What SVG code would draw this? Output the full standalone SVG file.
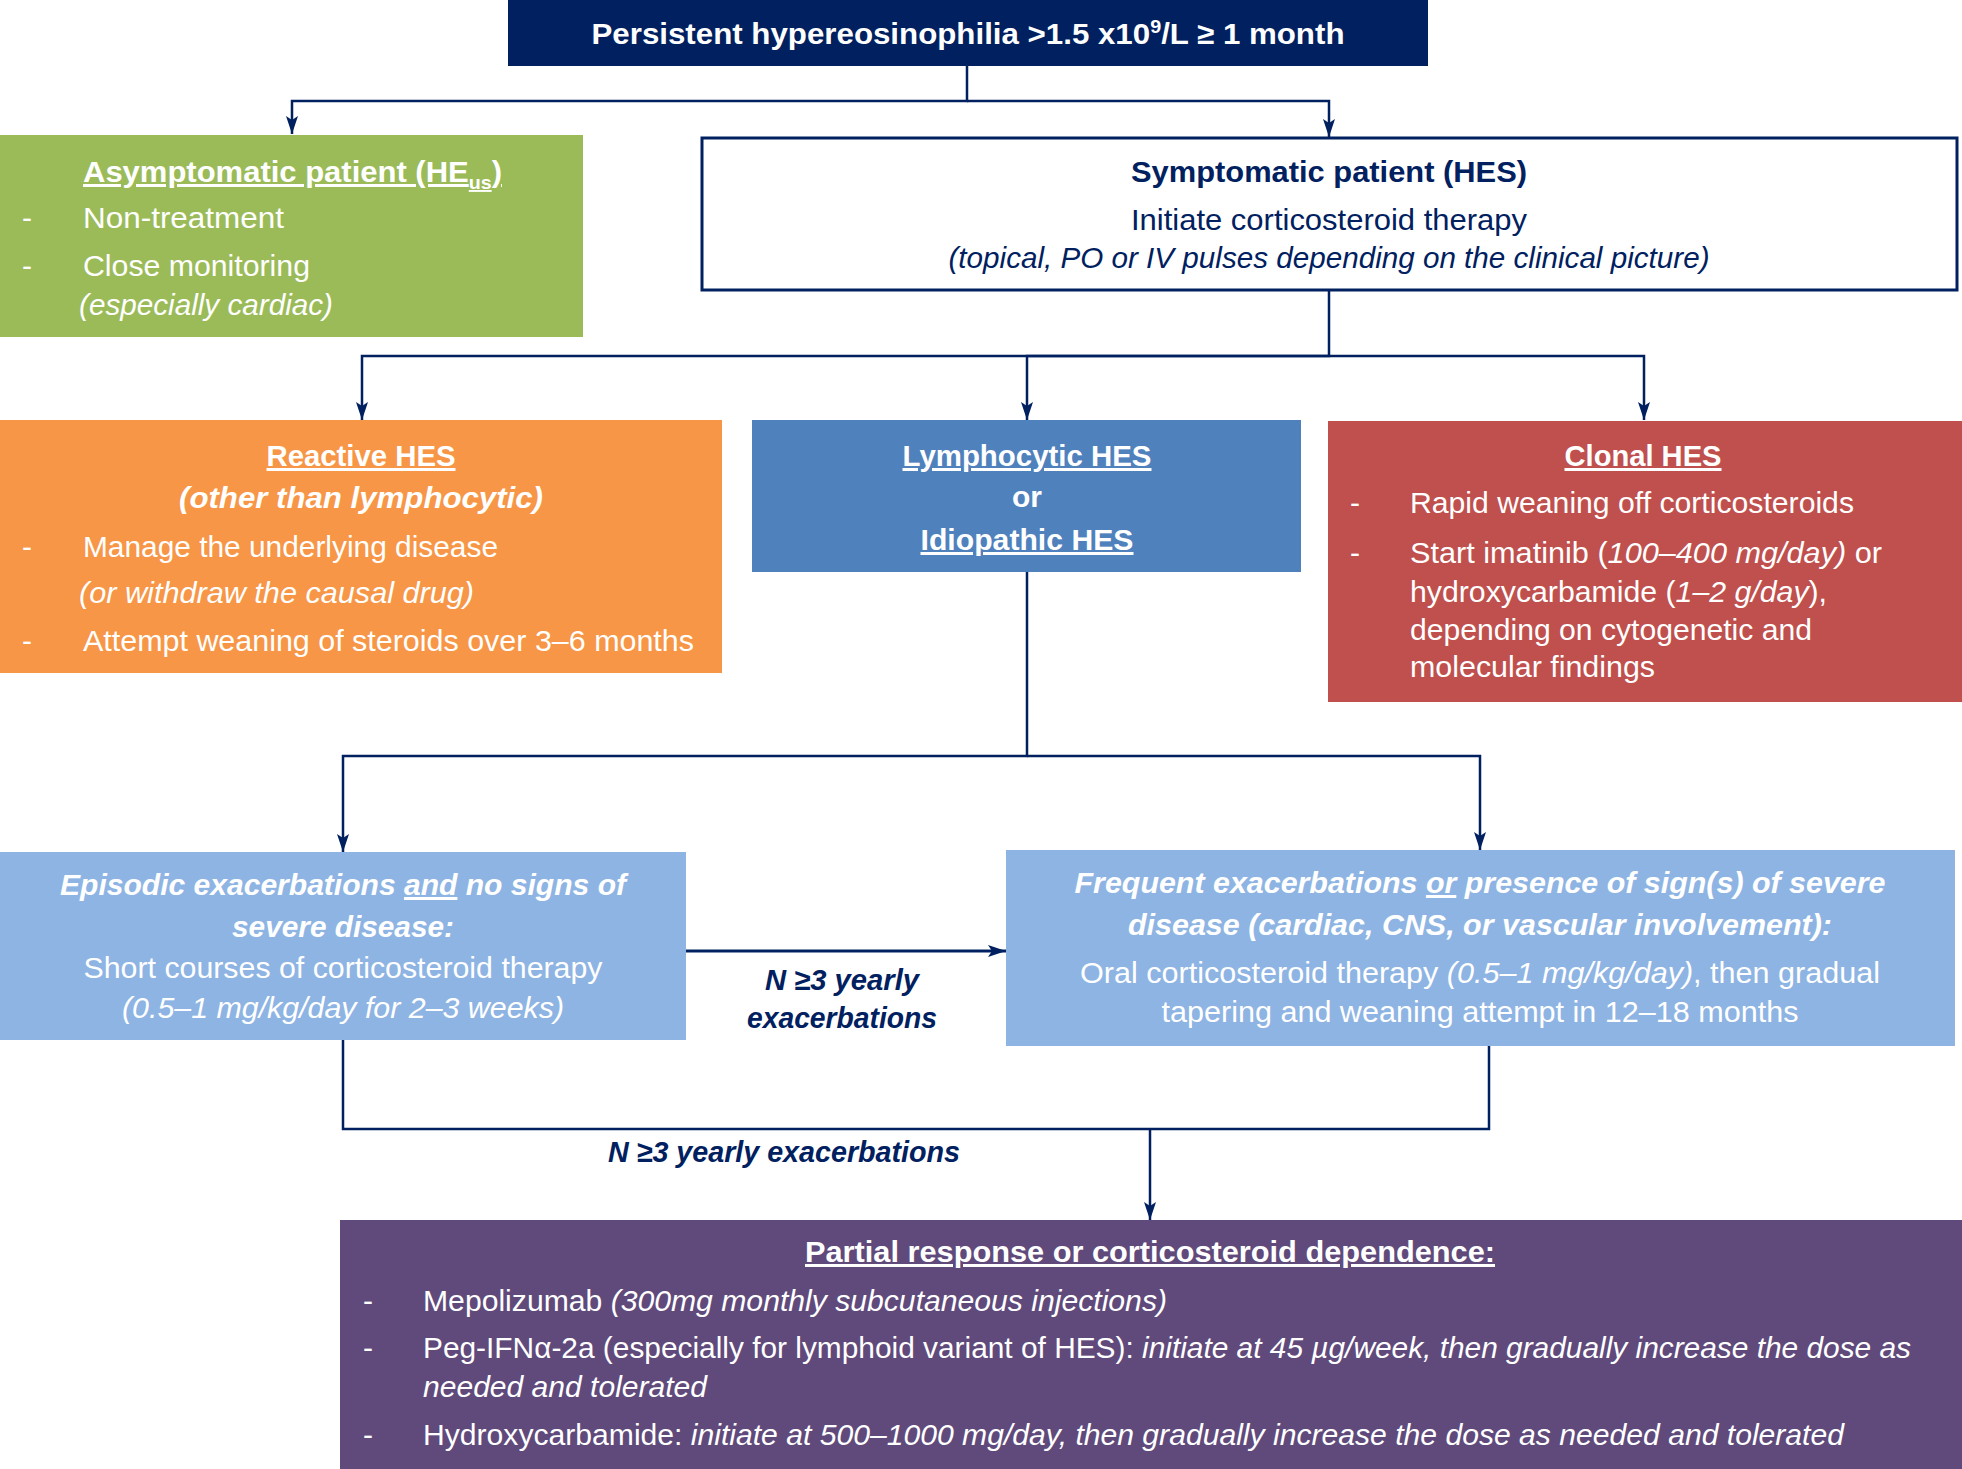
<svg xmlns="http://www.w3.org/2000/svg" width="1962" height="1469" viewBox="0 0 1962 1469">
<defs>
<style>
text{font-family:"Liberation Sans",Arial,sans-serif;font-size:30px;}
.w{fill:#ffffff}
.n{fill:#002060}
.b{font-weight:bold}
.i{font-style:italic}
.u{text-decoration:underline}
.c{text-anchor:middle}
.con{fill:none;stroke:#002060;stroke-width:2.5}
</style>
<marker id="ah" markerUnits="userSpaceOnUse" markerWidth="20" markerHeight="14" refX="18" refY="7" orient="auto" viewBox="0 0 20 14">
<path d="M0,1 L18,7 L0,13 L4,7 Z" fill="#002060"/>
</marker>
</defs>
<rect width="1962" height="1469" fill="#ffffff"/>

<g id="connectors">
<path class="con" d="M967,66 V101 H292 V134" marker-end="url(#ah)"/>
<path class="con" d="M967,101 H1329 V137" marker-end="url(#ah)"/>
<path class="con" d="M1329,290 V356 H362 V420" marker-end="url(#ah)"/>
<path class="con" d="M1329,356 H1027 V420" marker-end="url(#ah)"/>
<path class="con" d="M1329,356 H1644 V420" marker-end="url(#ah)"/>
<path class="con" d="M1027,572 V756 H343 V852" marker-end="url(#ah)"/>
<path class="con" d="M1027,756 H1480 V850" marker-end="url(#ah)"/>
<path class="con" style="stroke-width:3" d="M686,951 H1006" marker-end="url(#ah)"/>
<path class="con" d="M343,1040 V1129 H1489 V1046"/>
<path class="con" d="M1150,1129 V1220" marker-end="url(#ah)"/>
</g>

<g id="top">
<rect x="508" y="0" width="920" height="66" fill="#002060"/>
<text class="w b c" x="968" y="44" textLength="753" lengthAdjust="spacingAndGlyphs">Persistent hypereosinophilia &gt;1.5 x10<tspan font-size="19" dy="-11">9</tspan><tspan dy="11">/L ≥ 1 month</tspan></text>
</g>

<g id="asymptomatic">
<rect x="0" y="135" width="583" height="202" fill="#9BBB59"/>
<text class="w b u" x="83" y="182" textLength="419" lengthAdjust="spacingAndGlyphs">Asymptomatic patient (HE<tspan font-size="19" dy="7">us</tspan><tspan dy="-7">)</tspan></text>
<text class="w" x="22" y="228">-</text>
<text class="w" x="83" y="228" textLength="201" lengthAdjust="spacingAndGlyphs">Non-treatment</text>
<text class="w" x="22" y="276">-</text>
<text class="w" x="83" y="276" textLength="227" lengthAdjust="spacingAndGlyphs">Close monitoring</text>
<text class="w i" x="79" y="315" textLength="254" lengthAdjust="spacingAndGlyphs">(especially cardiac)</text>
</g>

<g id="symptomatic">
<rect x="702" y="138" width="1255" height="152" fill="#ffffff" stroke="#002060" stroke-width="3"/>
<text class="n b c" x="1329" y="182" textLength="396" lengthAdjust="spacingAndGlyphs">Symptomatic patient (HES)</text>
<text class="n c" x="1329" y="230" textLength="396" lengthAdjust="spacingAndGlyphs">Initiate corticosteroid therapy</text>
<text class="n i c" x="1329" y="268" textLength="761" lengthAdjust="spacingAndGlyphs">(topical, PO or IV pulses depending on the clinical picture)</text>
</g>

<g id="reactive">
<rect x="0" y="420" width="722" height="253" fill="#F79646"/>
<text class="w b u c" x="361" y="466" textLength="189" lengthAdjust="spacingAndGlyphs">Reactive HES</text>
<text class="w b i c" x="361" y="508" textLength="364" lengthAdjust="spacingAndGlyphs">(other than lymphocytic)</text>
<text class="w" x="22" y="557">-</text>
<text class="w" x="83" y="557" textLength="415" lengthAdjust="spacingAndGlyphs">Manage the underlying disease</text>
<text class="w i" x="79" y="603" textLength="395" lengthAdjust="spacingAndGlyphs">(or withdraw the causal drug)</text>
<text class="w" x="22" y="651">-</text>
<text class="w" x="83" y="651" textLength="611" lengthAdjust="spacingAndGlyphs">Attempt weaning of steroids over 3–6 months</text>
</g>

<g id="lymphocytic">
<rect x="752" y="420" width="549" height="152" fill="#4F81BD"/>
<text class="w b u c" x="1027" y="466" textLength="249" lengthAdjust="spacingAndGlyphs">Lymphocytic HES</text>
<text class="w b c" x="1027" y="507">or</text>
<text class="w b u c" x="1027" y="550" textLength="213" lengthAdjust="spacingAndGlyphs">Idiopathic HES</text>
</g>

<g id="clonal">
<rect x="1328" y="421" width="634" height="281" fill="#C0504D"/>
<text class="w b u c" x="1643" y="466" textLength="157" lengthAdjust="spacingAndGlyphs">Clonal HES</text>
<text class="w" x="1350" y="513">-</text>
<text class="w" x="1410" y="513" textLength="444" lengthAdjust="spacingAndGlyphs">Rapid weaning off corticosteroids</text>
<text class="w" x="1350" y="563">-</text>
<text class="w" x="1410" y="563" textLength="472" lengthAdjust="spacingAndGlyphs">Start imatinib (<tspan class="i">100–400 mg/day)</tspan> or</text>
<text class="w" x="1410" y="602" textLength="417" lengthAdjust="spacingAndGlyphs">hydroxycarbamide (<tspan class="i">1–2 g/day</tspan>),</text>
<text class="w" x="1410" y="640" textLength="402" lengthAdjust="spacingAndGlyphs">depending on cytogenetic and</text>
<text class="w" x="1410" y="677" textLength="245" lengthAdjust="spacingAndGlyphs">molecular findings</text>
</g>

<g id="episodic">
<rect x="0" y="852" width="686" height="188" fill="#8EB4E3"/>
<text class="w b i c" x="343" y="895" textLength="566" lengthAdjust="spacingAndGlyphs">Episodic exacerbations <tspan class="u">and</tspan> no signs of</text>
<text class="w b i c" x="343" y="937" textLength="222" lengthAdjust="spacingAndGlyphs">severe disease:</text>
<text class="w c" x="343" y="978" textLength="519" lengthAdjust="spacingAndGlyphs">Short courses of corticosteroid therapy</text>
<text class="w i c" x="343" y="1018" textLength="442" lengthAdjust="spacingAndGlyphs">(0.5–1 mg/kg/day for 2–3 weeks)</text>
</g>

<g id="frequent">
<rect x="1006" y="850" width="949" height="196" fill="#8EB4E3"/>
<text class="w b i c" x="1480" y="893" textLength="811" lengthAdjust="spacingAndGlyphs">Frequent exacerbations <tspan class="u">or</tspan> presence of sign(s) of severe</text>
<text class="w b i c" x="1480" y="935" textLength="704" lengthAdjust="spacingAndGlyphs">disease (cardiac, CNS, or vascular involvement):</text>
<text class="w c" x="1480" y="983" textLength="800" lengthAdjust="spacingAndGlyphs">Oral corticosteroid therapy <tspan class="i">(0.5–1 mg/kg/day)</tspan>, then gradual</text>
<text class="w c" x="1480" y="1022" textLength="637" lengthAdjust="spacingAndGlyphs">tapering and weaning attempt in 12–18 months</text>
</g>

<g id="labels">
<text class="n b i c" x="842" y="990" textLength="154" lengthAdjust="spacingAndGlyphs">N ≥3 yearly</text>
<text class="n b i c" x="842" y="1028" textLength="190" lengthAdjust="spacingAndGlyphs">exacerbations</text>
<text class="n b i c" x="784" y="1162" textLength="352" lengthAdjust="spacingAndGlyphs">N ≥3 yearly exacerbations</text>
</g>

<g id="partial">
<rect x="340" y="1220" width="1622" height="249" fill="#604A7B"/>
<text class="w b u c" x="1150" y="1262" textLength="690" lengthAdjust="spacingAndGlyphs">Partial response or corticosteroid dependence:</text>
<text class="w" x="363" y="1311">-</text>
<text class="w" x="423" y="1311" textLength="744" lengthAdjust="spacingAndGlyphs">Mepolizumab <tspan class="i">(300mg monthly subcutaneous injections)</tspan></text>
<text class="w" x="363" y="1358">-</text>
<text class="w" x="423" y="1358" textLength="1488" lengthAdjust="spacingAndGlyphs">Peg-IFNα-2a (especially for lymphoid variant of HES): <tspan class="i">initiate at 45 µg/week, then gradually increase the dose as</tspan></text>
<text class="w i" x="423" y="1397" textLength="284" lengthAdjust="spacingAndGlyphs">needed and tolerated</text>
<text class="w" x="363" y="1445">-</text>
<text class="w" x="423" y="1445" textLength="1421" lengthAdjust="spacingAndGlyphs">Hydroxycarbamide: <tspan class="i">initiate at 500–1000 mg/day, then gradually increase the dose as needed and tolerated</tspan></text>
</g>
</svg>
